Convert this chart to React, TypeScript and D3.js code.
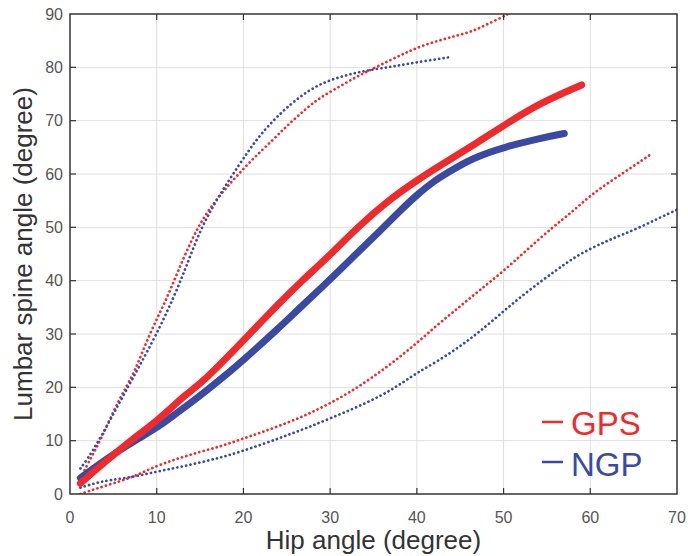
import React from "react";
import * as d3 from "d3";

const xTicks = [0, 10, 20, 30, 40, 50, 60, 70];
const yTicks = [0, 10, 20, 30, 40, 50, 60, 70, 80, 90];

const gpsMeanX = [1.2, 3, 5, 7, 10, 12, 13, 15, 17.5, 20, 24.2, 26.5, 30, 33, 36.9, 40, 42.7, 46.5, 50.4, 54.2, 59];
const gpsMeanY = [2, 4.6, 7.3, 10, 13.7, 16.6, 18.2, 20.6, 24.6, 28.8, 35.9, 39.6, 44.8, 49.8, 55.3, 58.8, 61.6, 65.4, 69.5, 73.3, 76.7];

const ngpMeanX = [1.2, 3, 5.5, 8, 10, 12, 14.2, 17, 20, 24.2, 26.5, 30, 33, 35.8, 38, 40, 42, 43.4, 46.5, 50.4, 54.2, 57];
const ngpMeanY = [3, 5.2, 8, 10.5, 12.4, 14.8, 17.4, 21, 25.1, 31.3, 34.9, 40.2, 45, 49.4, 53, 56.1, 58.7, 60.1, 63.1, 65.2, 66.7, 67.6];

const gpsUpperX = [1.2, 2, 3.5, 5, 6.1, 7.5, 9.2, 11, 12.5, 14.6, 16.5, 18.8, 21, 23.4, 25, 27.3, 29, 31.1, 33, 35, 37, 38.8, 40.5, 42.7, 44.5, 46.5, 48, 50, 51];
const gpsUpperY = [3, 5.5, 10, 15.5, 19, 23, 30.2, 36, 42, 49.8, 54.5, 58.9, 62.7, 66.4, 69, 72.4, 74.5, 76.4, 78.2, 79.8, 81.4, 82.8, 84, 85.1, 85.9, 86.8, 88, 89.5, 90.5];

const ngpUpperX = [1.2, 2, 3.5, 5, 6.5, 8, 10, 12, 13.5, 15, 17, 19.6, 21.5, 23.4, 25.5, 27.3, 29, 31.1, 33, 35, 37, 38.8, 41, 43.8];
const ngpUpperY = [4.8, 6.5, 10.5, 15, 19.5, 24, 30, 37, 43, 49.5, 55.5, 62, 66.5, 70, 73.2, 75.4, 77, 78.2, 79, 79.6, 80.1, 80.6, 81.2, 81.9];

const gpsLowerX = [1.2, 3, 5, 7.3, 10, 12.5, 15, 17.5, 19.6, 22, 25, 27.5, 30, 32.5, 35, 37.5, 40, 42.5, 45, 47.3, 50, 52.5, 55.7, 58, 60, 62.5, 65, 66.9];
const gpsLowerY = [0, 1, 2, 3.2, 5.3, 6.7, 7.9, 9, 10.2, 11.5, 13.3, 15, 17, 19.3, 22, 25, 28.3, 31.9, 35.2, 38.3, 41.8, 45.5, 50.1, 53, 56, 58.8, 61.5, 63.6];

const ngpLowerX = [1.2, 3, 4.6, 7.3, 10, 12.5, 15, 17.5, 19.6, 22.5, 25, 27.5, 30, 33, 36.1, 38, 40, 42.5, 45, 47.3, 50, 53, 56.1, 58, 60, 62, 63.8, 66, 68, 70];
const ngpLowerY = [1.2, 2.1, 2.6, 3.2, 4.2, 5, 5.9, 6.9, 7.9, 9.5, 11, 12.5, 14.2, 16.2, 18.6, 20.5, 22.7, 25, 27.7, 30.5, 34.3, 38.3, 42, 44.2, 46, 47.5, 48.7, 50.2, 51.8, 53.3];

const legendLabels = ["GPS", "NGP"];

const RED = "#ee2a2c";
const BLUE = "#3a4aa2";

const W = 688;
const H = 556;
const L = 70, R = 677, T = 14, B = 494;

export default function App() {
  const x = d3.scaleLinear().domain([0, 70]).range([L, R]);
  const y = d3.scaleLinear().domain([0, 90]).range([B, T]);

  const mk = (xs: number[], ys: number[]) =>
    d3
      .line<number>()
      .x((_, i) => x(xs[i]))
      .y((v) => y(v))
      .curve(d3.curveBasis)(ys) || "";

  const series = [
    { xs: gpsLowerX, ys: gpsLowerY, color: RED, dotted: true },
    { xs: ngpLowerX, ys: ngpLowerY, color: BLUE, dotted: true },
    { xs: gpsUpperX, ys: gpsUpperY, color: RED, dotted: true },
    { xs: ngpUpperX, ys: ngpUpperY, color: BLUE, dotted: true },
    { xs: ngpMeanX, ys: ngpMeanY, color: BLUE, dotted: false },
    { xs: gpsMeanX, ys: gpsMeanY, color: RED, dotted: false },
  ];

  const font = "'Liberation Sans', Arial, Helvetica, sans-serif";
  const tickColor = "#555";

  return (
    <svg
      width={W}
      height={H}
      style={{ position: "absolute", left: 0, top: 0, background: "#fff" }}
      fontFamily={font}
    >
      <defs>
        <clipPath id="plotclip">
          <rect x={L} y={T} width={R - L} height={B - T} />
        </clipPath>
      </defs>
      <rect x={0} y={0} width={W} height={H} fill="#fff" />
      {/* grid */}
      {xTicks.slice(1, -1).map((t) => (
        <line key={"gx" + t} x1={x(t)} x2={x(t)} y1={T} y2={B} stroke="#dedede" strokeWidth={1} />
      ))}
      {yTicks.slice(1, -1).map((t) => (
        <line key={"gy" + t} x1={L} x2={R} y1={y(t)} y2={y(t)} stroke="#dedede" strokeWidth={1} />
      ))}
      {/* data */}
      <g clipPath="url(#plotclip)">
        {series.map((s, i) => (
          <path
            key={i}
            d={mk(s.xs, s.ys)}
            fill="none"
            stroke={s.color}
            strokeWidth={s.dotted ? 2.7 : 7}
            strokeLinecap="round"
            strokeLinejoin="round"
            strokeDasharray={s.dotted ? "0.1 4.4" : undefined}
          />
        ))}
      </g>
      {/* ticks */}
      {xTicks.slice(1, -1).map((t) => (
        <g key={"tx" + t}>
          <line x1={x(t)} x2={x(t)} y1={B} y2={B - 6} stroke="#333" strokeWidth={1.2} />
          <line x1={x(t)} x2={x(t)} y1={T} y2={T + 6} stroke="#333" strokeWidth={1.2} />
        </g>
      ))}
      {yTicks.slice(1, -1).map((t) => (
        <g key={"ty" + t}>
          <line x1={L} x2={L + 6} y1={y(t)} y2={y(t)} stroke="#333" strokeWidth={1.2} />
          <line x1={R} x2={R - 6} y1={y(t)} y2={y(t)} stroke="#333" strokeWidth={1.2} />
        </g>
      ))}
      {/* box */}
      <rect x={L} y={T} width={R - L} height={B - T} fill="none" stroke="#333" strokeWidth={1.5} />
      {/* tick labels */}
      {xTicks.map((t) => (
        <text key={"lx" + t} x={x(t)} y={523} textAnchor="middle" fontSize={16} fill={tickColor}>
          {t}
        </text>
      ))}
      {yTicks.map((t) => (
        <text key={"ly" + t} x={63} y={y(t) + 5.5} textAnchor="end" fontSize={16} fill={tickColor}>
          {t}
        </text>
      ))}
      {/* axis labels */}
      <text x={(L + R) / 2} y={549} textAnchor="middle" fontSize={26} fill="#333">
        Hip angle (degree)
      </text>
      <text
        transform={`translate(32, ${(T + B) / 2}) rotate(-90)`}
        textAnchor="middle"
        fontSize={26}
        fill="#333"
      >
        Lumbar spine angle (degree)
      </text>
      {/* legend */}
      {legendLabels.map((lab, i) => {
        const c = i === 0 ? RED : BLUE;
        const by = i === 0 ? 435 : 476;
        const ly = i === 0 ? 422 : 462;
        return (
          <g key={lab}>
            <line x1={542} x2={563} y1={ly} y2={ly} stroke={c} strokeWidth={2.5} />
            <text x={571} y={by} fontSize={33} fill={c}>
              {lab}
            </text>
          </g>
        );
      })}
    </svg>
  );
}
